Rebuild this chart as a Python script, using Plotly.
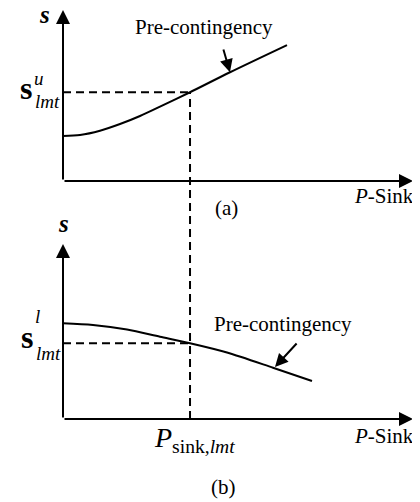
import plotly.graph_objects as go
from plotly.subplots import make_subplots

# the page body has an 8px margin, so the figure is drawn 8px in from the corner
OFF = 8
W, H = 420 - OFF, 502 - OFF

# curve (a): sensitivity rising with sink injection
p_a = [0.0, 0.486, 1.057, 1.629, 2.2, 2.771, 3.629, 4.771, 6.4]
s_a = [2.63, 2.69, 2.94, 3.33, 3.80, 4.35, 5.19, 6.36, 7.95]

# curve (b): sensitivity falling with sink injection
p_b = [0.0, 0.857, 1.829, 2.771, 3.629, 4.686, 6.0, 7.114]
s_b = [5.47, 5.37, 5.11, 4.70, 4.33, 3.80, 2.93, 2.17]

p_lmt = 3.629
s_u_lmt = 5.19
s_l_lmt = 4.33

x_max, y_max = 10, 10

# panel geometry (window pixels)
x_left, x_right = 63, 413
top_y0, top_y1 = 181, 10
bot_y0, bot_y1 = 419, 244


def px(v):
    return (v - OFF) / W


def py(v):
    return 1 - (v - OFF) / H


fig = make_subplots(rows=2, cols=1)
fig.update_layout(
    width=W, height=H,
    margin=dict(l=0, r=0, t=0, b=0),
    showlegend=False,
    plot_bgcolor="white", paper_bgcolor="white",
    font=dict(family="Liberation Serif", color="black"),
    xaxis=dict(domain=[px(x_left), px(x_right)], range=[0, x_max], visible=False),
    yaxis=dict(domain=[py(top_y0), py(top_y1)], range=[0, y_max], visible=False),
    xaxis2=dict(domain=[px(x_left), px(x_right)], range=[0, x_max], visible=False),
    yaxis2=dict(domain=[py(bot_y0), py(bot_y1)], range=[0, y_max], visible=False),
)

line = dict(color="black", width=2, shape="spline", smoothing=0.8)
fig.add_trace(go.Scatter(x=p_a, y=s_a, mode="lines", line=line), row=1, col=1)
fig.add_trace(go.Scatter(x=p_b, y=s_b, mode="lines", line=line), row=2, col=1)

dash = dict(color="black", width=2, dash="8px,5px")
# horizontal limit lines
fig.add_shape(type="line", xref="x", yref="y", x0=0, x1=p_lmt, y0=s_u_lmt, y1=s_u_lmt, line=dash)
fig.add_shape(type="line", xref="x2", yref="y2", x0=0, x1=p_lmt, y0=s_l_lmt, y1=s_l_lmt, line=dash)
# vertical limit line running through both panels
top_dom = fig.layout.yaxis.domain
bot_dom = fig.layout.yaxis2.domain
y_top_paper = top_dom[0] + s_u_lmt / y_max * (top_dom[1] - top_dom[0])
fig.add_shape(type="line", xref="x", yref="paper", x0=p_lmt, x1=p_lmt,
              y0=bot_dom[0], y1=y_top_paper, line=dash)

# axes with arrowheads
for xr, yr in [("x", "y"), ("x2", "y2")]:
    fig.add_annotation(x=x_max, y=0, ax=0, ay=0, xref=xr, yref=yr, axref=xr, ayref=yr,
                       text="", showarrow=True, arrowhead=2, arrowsize=1.4, arrowwidth=2,
                       arrowcolor="black", standoff=0)
    fig.add_annotation(x=0, y=y_max, ax=0, ay=0, xref=xr, yref=yr, axref=xr, ayref=yr,
                       text="", showarrow=True, arrowhead=2, arrowsize=1.4, arrowwidth=2,
                       arrowcolor="black", standoff=0)

# pointer arrows onto the curves
fig.add_annotation(x=4.771, y=6.36, ax=4.571, ay=7.78, xref="x", yref="y", axref="x", ayref="y",
                   text="", showarrow=True, arrowhead=2, arrowsize=1.3, arrowwidth=2,
                   arrowcolor="black", standoff=0)
fig.add_annotation(x=6.057, y=2.97, ax=6.714, ay=4.4, xref="x2", yref="y2", axref="x2", ayref="y2",
                   text="", showarrow=True, arrowhead=2, arrowsize=1.3, arrowwidth=2,
                   arrowcolor="black", standoff=0)


def label(x, y, text, size, xanchor="center"):
    fig.add_annotation(x=px(x), y=py(y), xref="paper", yref="paper", text=text,
                       showarrow=False, xanchor=xanchor, yanchor="middle",
                       font=dict(size=size, family="Liberation Serif", color="black"))


label(44, 15, "<b><i>s</i></b>", 25)
label(63, 223, "<b><i>s</i></b>", 25)

label(204, 27, "Pre-contingency", 21)
label(283, 324, "Pre-contingency", 21)

label(226, 208, "(a)", 21)
label(223, 487, "(b)", 21)

label(416, 196, "<i>P</i>-Sink", 21, xanchor="right")
label(416, 436, "<i>P</i>-Sink", 21, xanchor="right")

# s^u_lmt
label(26, 88, "<b>s</b>", 32)
label(32, 78, "<i>u</i>", 19, xanchor="left")
label(33, 101, "<i>lmt</i>", 19, xanchor="left")
# s^l_lmt
label(27, 337, "<b>s</b>", 32)
label(33, 316, "<i>l</i>", 19, xanchor="left")
label(34, 353, "<i>lmt</i>", 19, xanchor="left")

# P_sink,lmt
label(152, 439, "<i>P</i><sub>sink,<i>lmt</i></sub>", 28, xanchor="left")

fig.write_html("out.html")
